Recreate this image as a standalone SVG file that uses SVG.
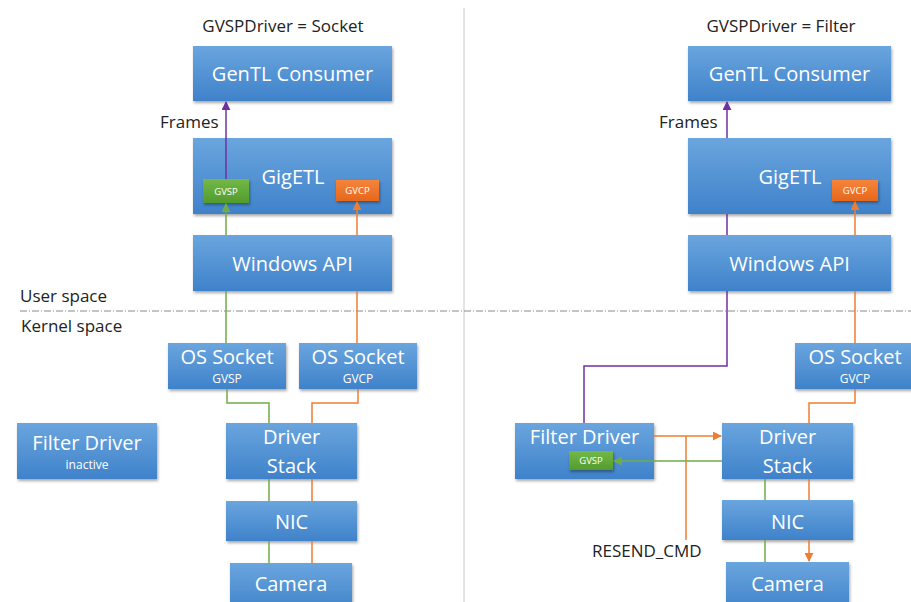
<svg xmlns="http://www.w3.org/2000/svg" width="911" height="602" viewBox="0 0 911 602">
<style>
.box{fill:url(#blue);filter:url(#sh)}
.t{font-family:"Open Sans","Noto Sans",sans-serif;fill:#fff;text-anchor:middle}
.big{font-size:20px}
.sm{font-size:12px}
.xs{font-size:9.5px}
.lbl{font-family:"Open Sans","Noto Sans",sans-serif;fill:#222;font-size:17px}
.g{stroke:#70ad47;stroke-width:1.5;fill:none}
.o{stroke:#ed7d31;stroke-width:1.5;fill:none}
.p{stroke:#7030a0;stroke-width:1.5;fill:none}
</style>
<defs>
<linearGradient id="blue" x1="0" y1="0" x2="0" y2="1"><stop offset="0" stop-color="#6aa5de"/><stop offset="1" stop-color="#3f82ca"/></linearGradient>
<linearGradient id="green" x1="0" y1="0" x2="0" y2="1"><stop offset="0" stop-color="#74b847"/><stop offset="1" stop-color="#519c2e"/></linearGradient>
<linearGradient id="orange" x1="0" y1="0" x2="0" y2="1"><stop offset="0" stop-color="#f6843a"/><stop offset="1" stop-color="#e5681c"/></linearGradient>
<filter id="sh" x="-10%" y="-10%" width="125%" height="135%"><feDropShadow dx="1" dy="2" stdDeviation="1.5" flood-color="#000" flood-opacity="0.35"/></filter>
<marker id="ap" viewBox="0 0 10 10" refX="9" refY="5" markerWidth="9" markerHeight="9" markerUnits="userSpaceOnUse" orient="auto"><path d="M0 0L10 5L0 10z" fill="#7030a0"/></marker>
<marker id="ag" viewBox="0 0 10 10" refX="9" refY="5" markerWidth="9" markerHeight="9" markerUnits="userSpaceOnUse" orient="auto"><path d="M0 0L10 5L0 10z" fill="#70ad47"/></marker>
<marker id="ao" viewBox="0 0 10 10" refX="9" refY="5" markerWidth="9" markerHeight="9" markerUnits="userSpaceOnUse" orient="auto"><path d="M0 0L10 5L0 10z" fill="#ed7d31"/></marker>
</defs>
<rect width="911" height="602" fill="#fff"/>
<g id="dividers">
<line x1="464" y1="8" x2="464" y2="602" stroke="#c8c8c8" stroke-width="1"/>
<line x1="20" y1="311" x2="911" y2="311" stroke="#8a8a8a" stroke-width="1" stroke-dasharray="7 2 1 2"/>
</g>
<g id="labels">
<text class="lbl" x="283" y="32" text-anchor="middle">GVSPDriver = Socket</text>
<text class="lbl" x="781" y="32" text-anchor="middle">GVSPDriver = Filter</text>
<text class="lbl" x="160" y="128">Frames</text>
<text class="lbl" x="659" y="128">Frames</text>
<text class="lbl" x="20" y="302">User space</text>
<text class="lbl" x="21" y="332">Kernel space</text>
<text class="lbl" x="592" y="557">RESEND_CMD</text>
</g>
<g id="L-gentl"><rect class="box" x="193" y="46" width="199" height="55"/><text class="t big" x="292.5" y="81">GenTL Consumer</text></g>
<g id="L-gigetl"><rect class="box" x="193" y="138" width="199" height="76"/><text class="t big" x="293" y="184">GigETL</text>
<rect x="203" y="179" width="46" height="24" fill="url(#green)" filter="url(#sh)"/><text class="t xs" x="226" y="195">GVSP</text>
<rect x="336" y="180" width="43" height="21" fill="url(#orange)" filter="url(#sh)"/><text class="t xs" x="357.5" y="194">GVCP</text></g>
<g id="L-winapi"><rect class="box" x="193" y="235" width="199" height="56"/><text class="t big" x="292.5" y="271">Windows API</text></g>
<g id="L-sock1"><rect class="box" x="168" y="343" width="118" height="46"/><text class="t big" x="227" y="364">OS Socket</text><text class="t sm" x="227" y="383">GVSP</text></g>
<g id="L-sock2"><rect class="box" x="299" y="343" width="118" height="46"/><text class="t big" x="358" y="364">OS Socket</text><text class="t sm" x="358" y="383">GVCP</text></g>
<g id="L-filter"><rect class="box" x="17" y="423" width="140" height="56"/><text class="t big" x="87" y="450">Filter Driver</text><text class="t sm" x="87" y="469">inactive</text></g>
<g id="L-stack"><rect class="box" x="226" y="423" width="131" height="56"/><text class="t big" x="291.5" y="444">Driver</text><text class="t big" x="291.5" y="473">Stack</text></g>
<g id="L-nic"><rect class="box" x="226" y="501" width="131" height="40"/><text class="t big" x="291.5" y="529">NIC</text></g>
<g id="L-camera"><rect class="box" x="230" y="563" width="122" height="50"/><text class="t big" x="291" y="591">Camera</text></g>
<g id="R-gentl"><rect class="box" x="688" y="46" width="203" height="55"/><text class="t big" x="789.5" y="81">GenTL Consumer</text></g>
<g id="R-gigetl"><rect class="box" x="688" y="138" width="203" height="76"/><text class="t big" x="790" y="184">GigETL</text>
<rect x="832" y="180" width="46" height="21" fill="url(#orange)" filter="url(#sh)"/><text class="t xs" x="855" y="194">GVCP</text></g>
<g id="R-winapi"><rect class="box" x="688" y="235" width="203" height="56"/><text class="t big" x="789.5" y="271">Windows API</text></g>
<g id="R-sock"><rect class="box" x="795" y="343" width="120" height="46"/><text class="t big" x="855" y="364">OS Socket</text><text class="t sm" x="855" y="383">GVCP</text></g>
<g id="R-filter"><rect class="box" x="515" y="423" width="139" height="56"/><text class="t big" x="584.5" y="444">Filter Driver</text>
<rect x="569" y="451" width="44" height="19" fill="url(#green)" filter="url(#sh)"/><text class="t xs" x="591" y="464">GVSP</text></g>
<g id="R-stack"><rect class="box" x="722" y="423" width="131" height="56"/><text class="t big" x="787.5" y="444">Driver</text><text class="t big" x="787.5" y="473">Stack</text></g>
<g id="R-nic"><rect class="box" x="722" y="500" width="131" height="40"/><text class="t big" x="787.5" y="529">NIC</text></g>
<g id="R-camera"><rect class="box" x="726" y="562" width="123" height="50"/><text class="t big" x="787.5" y="591">Camera</text></g>
<g id="connectors">
<path class="p" d="M226 179V102" marker-end="url(#ap)"/>
<path class="g" d="M226 343V291M226 235V204" marker-end="url(#ag)"/>
<path class="o" d="M357 343V291M357 235V202" marker-end="url(#ao)"/>
<path class="g" d="M227 389V403H269V423M269 479V501M269 541V563"/>
<path class="o" d="M358 389V403H312V423M312 479V501M312 541V563"/>
<path class="p" d="M727 138V102" marker-end="url(#ap)"/>
<path class="p" d="M727 214V235M727 291V366H584V423"/>
<path class="o" d="M855 235V202" marker-end="url(#ao)"/>
<path class="o" d="M855 291V343M855 389V403H809V423M809 479V500"/>
<path class="o" d="M809 540V561" marker-end="url(#ao)"/>
<path class="o" d="M654 436H721" marker-end="url(#ao)"/>
<path class="o" d="M686 436V540"/>
<path class="g" d="M722 461H614" marker-end="url(#ag)"/>
<path class="g" d="M765 479V500M765 540V562"/>
</g>
</svg>
